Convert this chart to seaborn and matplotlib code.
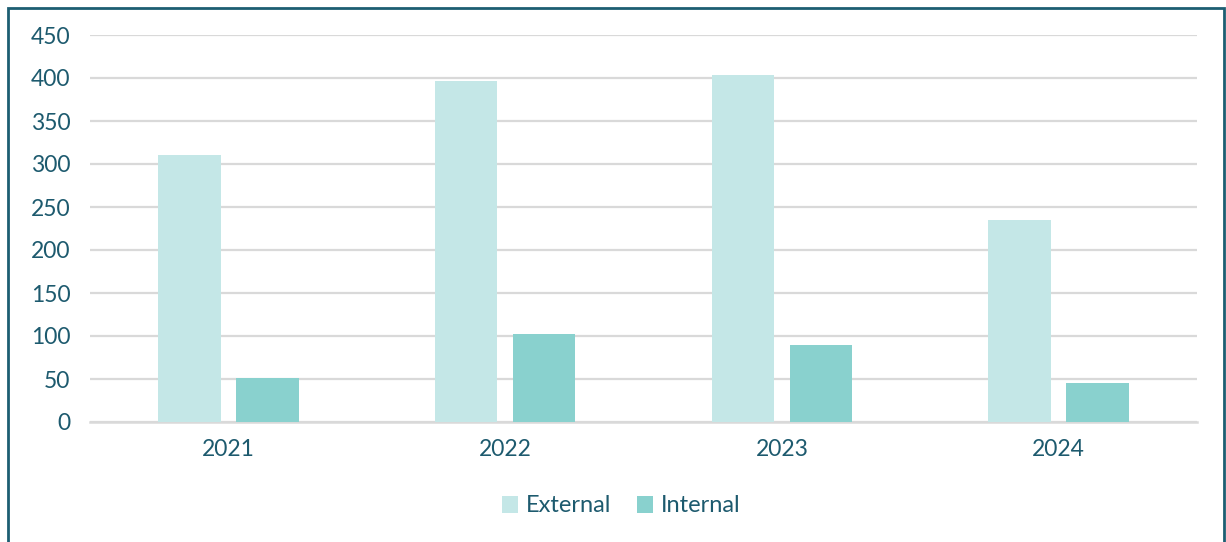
import matplotlib
matplotlib.use("Agg")
import matplotlib.pyplot as plt
import seaborn as sns
import pandas as pd
from matplotlib.patches import Rectangle

years = ["2021", "2022", "2023", "2024"]
external = [311, 397, 403, 235]
internal = [51, 102, 89, 45]
series_names = ["External", "Internal"]
yticks = [0, 50, 100, 150, 200, 250, 300, 350, 400, 450]

df = pd.DataFrame({
    "Year": years * 2,
    "Value": external + internal,
    "Type": [series_names[0]] * 4 + [series_names[1]] * 4,
})

sns.set_theme(style="white")
plt.rcParams["font.family"] = ["Lato", "DejaVu Sans"]
text_color = "#1d5a6e"

fig = plt.figure(figsize=(12.26, 5.42), dpi=100)
ax = fig.add_axes([90 / 1226, 1 - 422 / 542, (1197 - 90) / 1226, (422 - 35) / 542])

palette = {"External": "#c4e7e7", "Internal": "#89d1ce"}
sns.barplot(data=df, x="Year", y="Value", hue="Type", palette=palette,
            width=0.565, gap=0.2, ax=ax, saturation=1, zorder=3,
            edgecolor="none")

ax.set_ylim(0, 450)
ax.set_yticks(yticks)
ax.set_xlim(-0.5, 3.5)
ax.yaxis.grid(True, color="#d9d9d9", linewidth=1.6, zorder=0)
ax.set_axisbelow(True)
for s in ["top", "right", "left"]:
    ax.spines[s].set_visible(False)
ax.spines["bottom"].set_color("#d9d9d9")
ax.spines["bottom"].set_linewidth(1.8)
ax.set_xlabel("")
ax.set_ylabel("")
ax.tick_params(axis="both", length=0, labelsize=16.5, labelcolor=text_color)
ax.tick_params(axis="y", pad=14)
ax.tick_params(axis="x", pad=12)

leg = fig.legend(*ax.get_legend_handles_labels(), loc="center",
                 bbox_to_anchor=(621 / 1226, 1 - 506 / 542),
                 ncol=2, frameon=False, fontsize=17, handlelength=0.7, handleheight=0.7,
                 handletextpad=0.3, columnspacing=1.1)
ax.get_legend().remove()
for t in leg.get_texts():
    t.set_color(text_color)

fig.patches.append(Rectangle((8 / 1226, -0.1), (1224 - 8) / 1226, 1.1 - 8 / 542,
                             transform=fig.transFigure, fill=False,
                             edgecolor="#1d5e72", linewidth=2, zorder=10))

fig.savefig("out.png", dpi=100)
